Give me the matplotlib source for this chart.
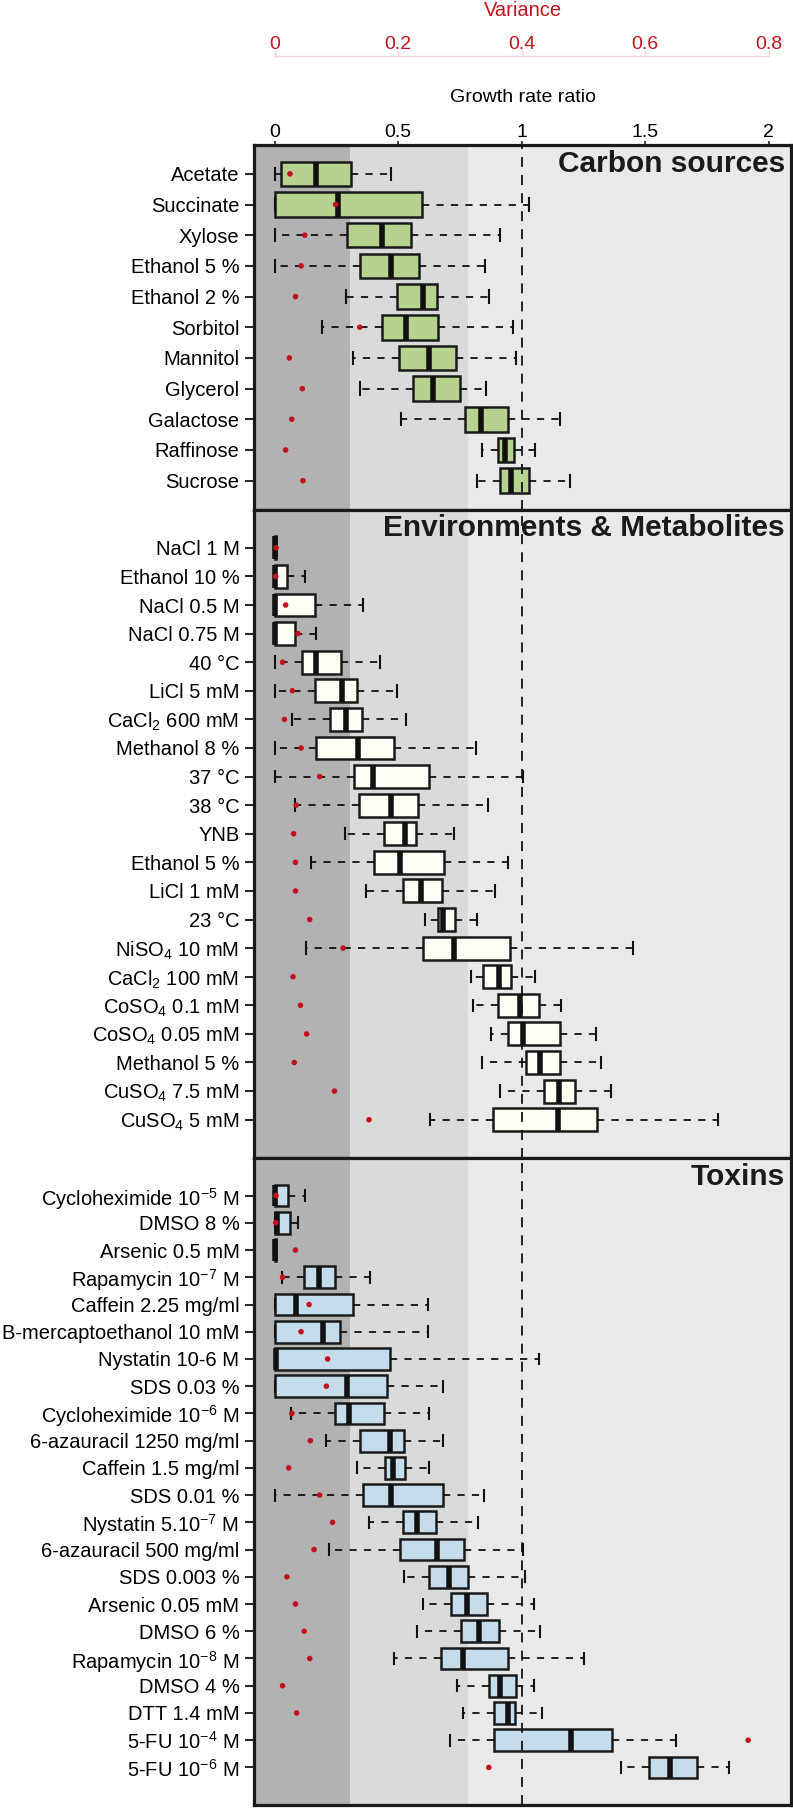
import numpy as np
import matplotlib
matplotlib.use("Agg")
import matplotlib.pyplot as plt

plt.rcParams["font.family"] = ["Liberation Sans", "DejaVu Sans"]
plt.rcParams["mathtext.fontset"] = "custom"
plt.rcParams["mathtext.rm"] = "Liberation Sans"
plt.rcParams["mathtext.it"] = "Liberation Sans"
plt.rcParams["mathtext.default"] = "regular"

# ---- data: growth rate ratio box stats (whislo, q1, med, q3, whishi) + variance ----
carbon_labels = ["Acetate", "Succinate", "Xylose", "Ethanol 5 %", "Ethanol 2 %", "Sorbitol",
                 "Mannitol", "Glycerol", "Galactose", "Raffinose", "Sucrose"]
carbon_lo = [0.0, 0.0, 0.0, 0.0, 0.291, 0.194, 0.317, 0.346, 0.514, 0.839, 0.819]
carbon_q1 = [0.027, 0.0, 0.295, 0.346, 0.495, 0.434, 0.504, 0.559, 0.770, 0.905, 0.913]
carbon_med = [0.168, 0.258, 0.434, 0.471, 0.600, 0.534, 0.626, 0.641, 0.837, 0.933, 0.958]
carbon_q3 = [0.309, 0.596, 0.553, 0.585, 0.659, 0.661, 0.735, 0.749, 0.946, 0.970, 1.032]
carbon_hi = [0.471, 1.030, 0.913, 0.852, 0.868, 0.964, 0.979, 0.858, 1.157, 1.056, 1.198]
carbon_var = [0.025, 0.099, 0.049, 0.043, 0.034, 0.138, 0.024, 0.045, 0.028, 0.018, 0.046]

env_labels = ["NaCl 1 M", "Ethanol 10 %", "NaCl 0.5 M", "NaCl 0.75 M", "40 °C", "LiCl 5 mM",
              r"CaCl$_2$ 600 mM", "Methanol 8 %", "37 °C", "38 °C", "YNB", "Ethanol 5 %",
              "LiCl 1 mM", "23 °C", r"NiSO$_4$ 10 mM", r"CaCl$_2$ 100 mM", r"CoSO$_4$ 0.1 mM",
              r"CoSO$_4$ 0.05 mM", "Methanol 5 %", r"CuSO$_4$ 7.5 mM", r"CuSO$_4$ 5 mM"]
env_lo = [0.0, 0.0, 0.0, 0.0, 0.0, 0.0, 0.070, 0.0, 0.0, 0.084, 0.287, 0.149, 0.371,
          0.610, 0.129, 0.794, 0.805, 0.876, 0.839, 0.913, 0.631]
env_q1 = [0.0, 0.0, 0.0, 0.0, 0.111, 0.162, 0.225, 0.168, 0.323, 0.344, 0.442, 0.403, 0.522,
          0.663, 0.600, 0.845, 0.905, 0.946, 1.017, 1.091, 0.886]
env_med = [0.0, 0.0, 0.0, 0.0, 0.166, 0.274, 0.291, 0.340, 0.399, 0.473, 0.528, 0.510, 0.594,
           0.684, 0.727, 0.909, 0.995, 1.007, 1.075, 1.150, 1.148]
env_q3 = [0.005, 0.049, 0.164, 0.084, 0.270, 0.334, 0.356, 0.485, 0.626, 0.579, 0.571, 0.686,
          0.680, 0.731, 0.952, 0.958, 1.069, 1.155, 1.157, 1.218, 1.304]
env_hi = [0.005, 0.125, 0.360, 0.166, 0.426, 0.495, 0.532, 0.817, 1.007, 0.864, 0.725, 0.946,
          0.893, 0.819, 1.453, 1.054, 1.161, 1.302, 1.320, 1.363, 1.795]
env_var = [0.0025, 0.002, 0.018, 0.038, 0.013, 0.029, 0.016, 0.043, 0.073, 0.035, 0.031, 0.034,
           0.034, 0.057, 0.111, 0.030, 0.042, 0.052, 0.032, 0.097, 0.153]

tox_labels = [r"Cycloheximide 10$^{-5}$ M", "DMSO 8 %", "Arsenic 0.5 mM", r"Rapamycin 10$^{-7}$ M",
              "Caffein 2.25 mg/ml", "B-mercaptoethanol 10 mM", "Nystatin 10-6 M", "SDS 0.03 %",
              r"Cycloheximide 10$^{-6}$ M", "6-azauracil 1250 mg/ml", "Caffein 1.5 mg/ml",
              "SDS 0.01 %", r"Nystatin 5.10$^{-7}$ M", "6-azauracil 500 mg/ml", "SDS 0.003 %",
              "Arsenic 0.05 mM", "DMSO 6 %", r"Rapamycin 10$^{-8}$ M", "DMSO 4 %", "DTT 1.4 mM",
              r"5-FU 10$^{-4}$ M", r"5-FU 10$^{-6}$ M"]
tox_lo = [0.0, 0.0, 0.0, 0.029, 0.0, 0.0, 0.0, 0.0, 0.066, 0.209, 0.332, 0.0, 0.381, 0.221,
          0.526, 0.602, 0.577, 0.483, 0.739, 0.762, 0.710, 1.402]
tox_q1 = [0.0, 0.0, 0.0, 0.119, 0.0, 0.0, 0.0, 0.0, 0.244, 0.348, 0.446, 0.360, 0.522, 0.510,
          0.624, 0.714, 0.755, 0.673, 0.870, 0.888, 0.890, 1.515]
tox_med = [0.0, 0.012, 0.0, 0.182, 0.086, 0.197, 0.006, 0.295, 0.303, 0.467, 0.479, 0.473,
           0.575, 0.659, 0.708, 0.780, 0.827, 0.762, 0.911, 0.946, 1.202, 1.601]
tox_q3 = [0.053, 0.063, 0.008, 0.246, 0.319, 0.264, 0.467, 0.454, 0.442, 0.524, 0.528, 0.684,
          0.653, 0.768, 0.782, 0.862, 0.907, 0.944, 0.978, 0.974, 1.367, 1.709]
tox_hi = [0.125, 0.094, 0.008, 0.385, 0.620, 0.620, 1.069, 0.682, 0.626, 0.682, 0.624, 0.850,
          0.825, 1.005, 1.015, 1.050, 1.073, 1.253, 1.050, 1.083, 1.627, 1.840]
tox_var = [0.0025, 0.002, 0.034, 0.013, 0.056, 0.043, 0.086, 0.084, 0.028, 0.058, 0.023, 0.073,
           0.094, 0.064, 0.020, 0.034, 0.048, 0.057, 0.013, 0.036, 0.767, 0.347]

growth_ticks = [0, 0.5, 1, 1.5, 2]
growth_ticklabels = ["0", "0.5", "1", "1.5", "2"]
var_ticks = [0, 0.2, 0.4, 0.6, 0.8]
var_ticklabels = ["0", "0.2", "0.4", "0.6", "0.8"]
var_scale = 2.5  # variance 0.4 <-> ratio 1

panels = [
    ("Carbon sources", carbon_labels, carbon_lo, carbon_q1, carbon_med, carbon_q3, carbon_hi,
     carbon_var, "#b6d28e"),
    ("Environments & Metabolites", env_labels, env_lo, env_q1, env_med, env_q3, env_hi,
     env_var, "#fefef4"),
    ("Toxins", tox_labels, tox_lo, tox_q1, tox_med, tox_q3, tox_hi, tox_var, "#c5dcea"),
]

W, H = 793, 1809
XLIM = (-0.083, 2.091)
RED = "#c0141e"

fig = plt.figure(figsize=(W / 100, H / 100), dpi=100)
left, right = 254, 791
# panel pixel extents (top, bottom) from the top of the figure
extents = [(145, 509.5), (509.5, 1158), (1158, 1805)]

axes = []
for (title, labels, lo, q1, med, q3, hi, var, color), (top, bot) in zip(panels, extents):
    ax = fig.add_axes([left / W, 1 - bot / H, (right - left) / W, (bot - top) / H])
    n = len(labels)
    pos = np.arange(1, n + 1)

    ax.set_facecolor("#e9e9e9")
    ax.axvspan(XLIM[0], 0.306, color="#b2b2b2", lw=0, zorder=0)
    ax.axvspan(0.306, 0.785, color="#d9dada", lw=0, zorder=0)

    stats = [dict(whislo=a, q1=b, med=c, q3=d, whishi=e, fliers=[])
             for a, b, c, d, e in zip(lo, q1, med, q3, hi)]
    ax.bxp(stats, positions=pos, widths=0.8, capwidths=0.4, orientation="horizontal",
           patch_artist=True, showfliers=False, manage_ticks=False, zorder=2,
           boxprops=dict(facecolor=color, edgecolor="#1a1a1a", linewidth=1.8),
           medianprops=dict(color="#111111", linewidth=4, solid_capstyle="butt"),
           whiskerprops=dict(color="#111111", linewidth=1.3, linestyle=(0, (4, 4))),
           capprops=dict(color="#111111", linewidth=1.5))

    ax.axvline(1, color="#111111", lw=1.3, linestyle=(0, (5.5, 4.5)), zorder=3)
    ax.scatter(np.array(var) * var_scale, pos, s=16, color="#c40f1f", edgecolors="none", zorder=5)

    ax.set_xlim(*XLIM)
    ext = 0.04 * n
    ax.set_ylim(n + 0.5 + ext, 0.5 - ext)
    ax.set_yticks(pos)
    ax.set_yticklabels(labels, fontsize=14.5)
    ax.tick_params(axis="y", direction="out", length=6.5, width=1.4, pad=4, color="#222222")
    ax.tick_params(axis="x", bottom=False, labelbottom=False)
    for s in ax.spines.values():
        s.set_linewidth(2.3)
        s.set_color("#1a1a1a")

    ax.annotate(title, xy=(1, 1), xycoords="axes fraction", xytext=(-6, -19),
                textcoords="offset pixels", ha="right", va="center",
                fontsize=21.5, fontweight="bold", color="#1a1a1a")
    axes.append(ax)

# growth rate ratio axis on top of the first panel
ax0 = axes[0]
ax0.xaxis.tick_top()
ax0.set_xticks(growth_ticks)
ax0.set_xticklabels(growth_ticklabels)
ax0.tick_params(axis="x", top=True, labeltop=True, direction="out", length=3, width=1.2,
                pad=-0.3, labelsize=14, color="#222222")
xc = (left + right) / 2 / W
fig.text(xc, 1 - 97 / H, "Growth rate ratio", ha="center", va="center", fontsize=14)

# variance axis
axv = fig.add_axes([left / W, 1 - 56 / H, (right - left) / W, 0.00001])
axv.patch.set_visible(False)
axv.set_xlim(XLIM[0] / var_scale, XLIM[1] / var_scale)
axv.set_yticks([])
for name in ["left", "right", "bottom"]:
    axv.spines[name].set_visible(False)
axv.spines["top"].set_bounds(0, 0.8)
axv.spines["top"].set_color("#f4d2d2")
axv.spines["top"].set_linewidth(1)
axv.xaxis.tick_top()
axv.set_xticks(var_ticks)
axv.set_xticklabels(var_ticklabels)
axv.tick_params(axis="x", top=True, bottom=False, labeltop=True, labelbottom=False,
                direction="out", length=4, width=1, color="#f4d2d2", labelcolor=RED,
                labelsize=14, pad=-1.5)
fig.text(xc, 1 - 11 / H, "Variance", ha="center", va="center", fontsize=14.5, color=RED)

fig.savefig("out.png", dpi=100)
plt.close(fig)
